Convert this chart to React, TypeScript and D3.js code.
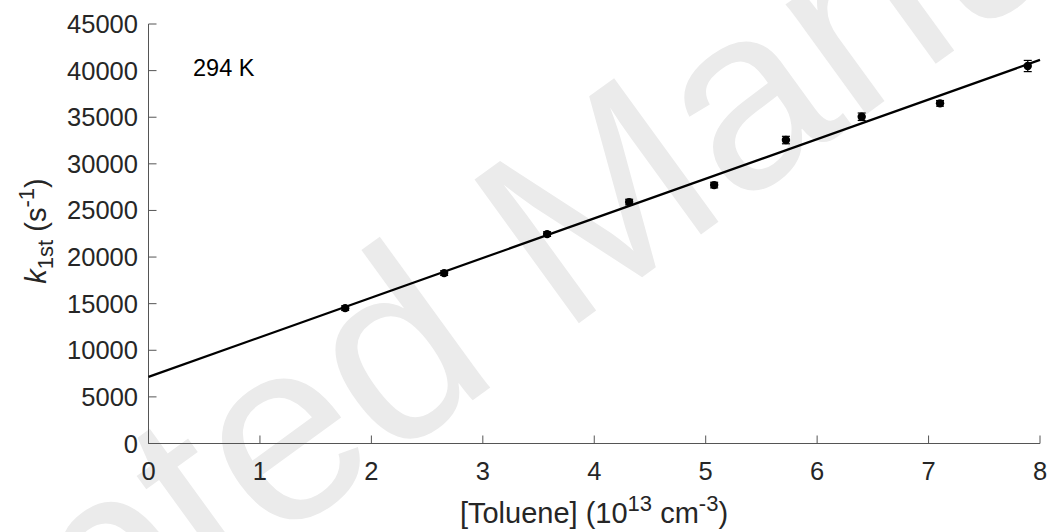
import React from "react";
import * as d3 from "d3";

const toluene = [1.765, 2.653, 3.577, 4.313, 5.076, 5.72, 6.4, 7.103, 7.89];
const k1st = [14520, 18277, 22463, 25897, 27721, 32551, 35051, 36489, 40493];
const k1stErr = [250, 250, 250, 300, 300, 400, 400, 300, 600];
const fitX = [0, 8];
const fitY = [7150, 41150];
const xTicks = [0, 1, 2, 3, 4, 5, 6, 7, 8];
const yTicks = [0, 5000, 10000, 15000, 20000, 25000, 30000, 35000, 40000, 45000];

const W = 1049;
const H = 532;
const L = 148.5;
const R = 1040;
const T = 24;
const B = 443.5;
const FONT = "'Liberation Sans', Arial, Helvetica, sans-serif";

export default function App() {
  const x = d3.scaleLinear().domain([0, 8]).range([L, R]);
  const y = d3.scaleLinear().domain([0, 45000]).range([B, T]);
  const line = d3
    .line<number>()
    .x((_, i) => x(fitX[i]))
    .y((d) => y(d));
  const axisColor = "#555";
  const textColor = "#262626";
  return (
    <svg
      width={W}
      height={H}
      style={{ position: "absolute", left: 0, top: 0, background: "#fff" }}
      fontFamily={FONT}
    >
      <rect x={0} y={0} width={W} height={H} fill="#fff" />
      {/* watermark */}
      <text
        x={608}
        y={302}
        transform="rotate(-36 608 302)"
        textAnchor="middle"
        fontSize={258}
        fill="#ebebeb"
      >
        Accepted Manuscript
      </text>
      {/* axes */}
      <line x1={L} x2={R} y1={B} y2={B} stroke={axisColor} strokeWidth={1} />
      <line x1={L} x2={L} y1={B} y2={T} stroke={axisColor} strokeWidth={1} />
      {xTicks.map((t) => (
        <g key={"x" + t}>
          <line x1={x(t)} x2={x(t)} y1={B} y2={B - 8} stroke={axisColor} strokeWidth={1} />
          <text x={x(t)} y={480} textAnchor="middle" fontSize={25.5} fill={textColor}>
            {t}
          </text>
        </g>
      ))}
      {yTicks.map((t) => (
        <g key={"y" + t}>
          <line x1={L} x2={L + 8} y1={y(t)} y2={y(t)} stroke={axisColor} strokeWidth={1} />
          <text x={138} y={y(t) + 9} textAnchor="end" fontSize={25.5} fill={textColor}>
            {t}
          </text>
        </g>
      ))}
      {/* fit line */}
      <path d={line(fitY) || ""} fill="none" stroke="#000" strokeWidth={2.2} />
      {/* error bars and points */}
      {toluene.map((tx, i) => {
        const cx = x(tx);
        const y1 = y(k1st[i] - k1stErr[i]);
        const y2 = y(k1st[i] + k1stErr[i]);
        return (
          <g key={"p" + i}>
            <line x1={cx} x2={cx} y1={y1} y2={y2} stroke="#000" strokeWidth={1.2} />
            <line x1={cx - 4} x2={cx + 4} y1={y1} y2={y1} stroke="#000" strokeWidth={1.2} />
            <line x1={cx - 4} x2={cx + 4} y1={y2} y2={y2} stroke="#000" strokeWidth={1.2} />
            <circle cx={cx} cy={y(k1st[i])} r={4.2} fill="#000" />
          </g>
        );
      })}
      {/* annotation */}
      <text x={193} y={76} fontSize={23.5} fill="#000">
        294 K
      </text>
      {/* x label */}
      <text x={594} y={523} textAnchor="middle" fontSize={29} fill={textColor}>
        [Toluene] (10
        <tspan dy={-12} fontSize={22}>13</tspan>
        <tspan dy={12}> cm</tspan>
        <tspan dy={-12} fontSize={22}>-3</tspan>
        <tspan dy={12}>)</tspan>
      </text>
      {/* y label */}
      <text
        transform="translate(46 231) rotate(-90)"
        textAnchor="middle"
        fontSize={29}
        fill={textColor}
      >
        <tspan fontStyle="italic">k</tspan>
        <tspan dy={7} fontSize={22}>1st</tspan>
        <tspan dy={-7}> (s</tspan>
        <tspan dy={-12} fontSize={22}>-1</tspan>
        <tspan dy={12}>)</tspan>
      </text>
    </svg>
  );
}
